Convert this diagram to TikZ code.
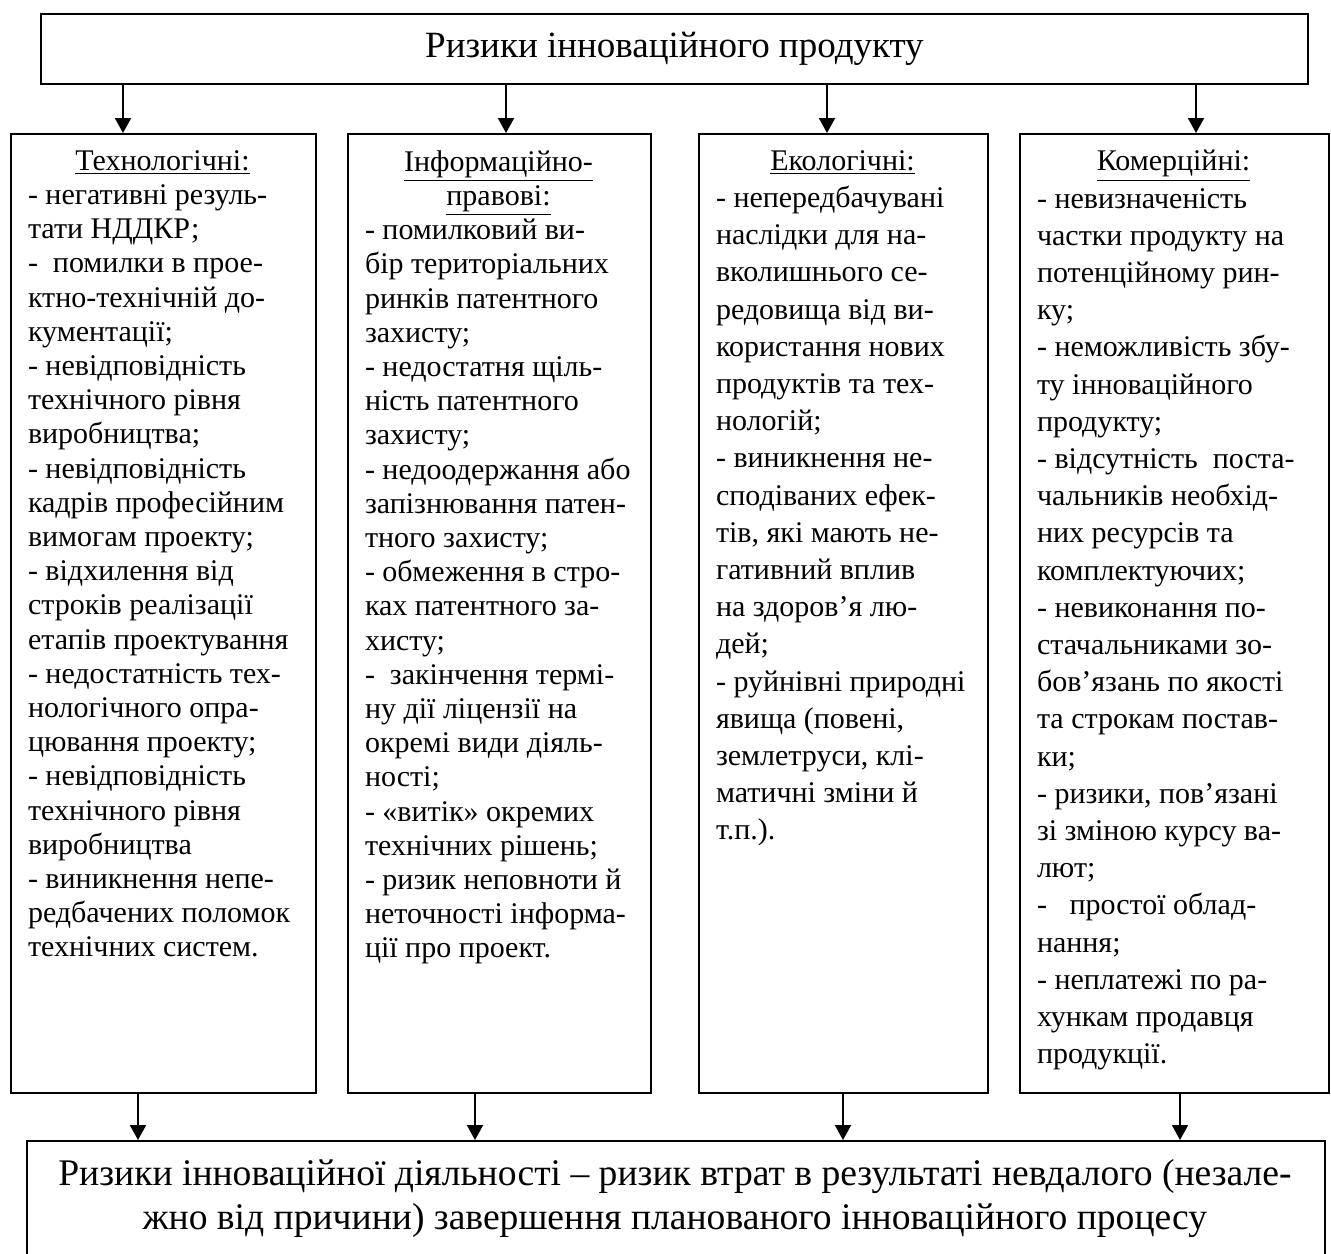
\documentclass[tikz,border=0pt]{standalone}
\usepackage{fontspec}
\setmainfont{Liberation Serif}
\usetikzlibrary{arrows.meta}
\begin{document}
\begin{tikzpicture}[x=0.5pt,y=-0.5pt,
  box/.style={draw, line width=1pt, inner sep=0pt, anchor=north west},
  coltext/.style={inner sep=0pt, anchor=north, align=left, font=\fontsize{15}{17.1}\selectfont},
  coltextwide/.style={coltext, font=\fontsize{15}{18.6}\selectfont},
  arr/.style={line width=1pt, -{Triangle[length=7.5pt,width=8pt]}}
]
\useasboundingbox (0,0) rectangle (1331,1253);
\fill[white] (0,0) rectangle (1331,1253);

% top box
\node[box, minimum width=633.5pt, minimum height=35pt,
      font=\fontsize{18.5}{22}\selectfont] (top) at (40,13) {Ризики інноваційного продукту};

% column boxes
\node[box, minimum width=152.5pt, minimum height=479.5pt] (b1) at (10,133) {};
\node[box, minimum width=151.5pt, minimum height=479.5pt] (b2) at (347,133) {};
\node[box, minimum width=144.5pt, minimum height=479.5pt] (b3) at (698,133) {};
\node[box, minimum width=154.5pt, minimum height=479.5pt] (b4) at (1019,133) {};

% bottom box (runs past the lower edge)
\node[box, minimum width=649pt, minimum height=65pt] (bot) at (26,1140) {};

% column texts
\node[coltext] (t1) at (162.5,150) {\makebox[134.5pt][c]{\underline{Технологічні:}}\\
- негативні резуль-\\
тати НДДКР;\\
-\ \ помилки в прое-\\
ктно-технічній до-\\
кументації;\\
- невідповідність\\
технічного рівня\\
виробництва;\\
- невідповідність\\
кадрів професійним\\
вимогам проекту;\\
- відхилення від\\
строків реалізації\\
етапів проектування\\
- недостатність тех-\\
нологічного опра-\\
цювання проекту;\\
- невідповідність\\
технічного рівня\\
виробництва\\
- виникнення непе-\\
редбачених поломок\\
технічних систем.};

\node[coltext] (t2) at (498.5,150) {\makebox[133.5pt][c]{\underline{Інформаційно-}}\\
\makebox[133.5pt][c]{\underline{правові:}}\\
- помилковий ви-\\
бір територіальних\\
ринків патентного\\
захисту;\\
- недостатня щіль-\\
ність патентного\\
захисту;\\
- недоодержання або\\
запізнювання патен-\\
тного захисту;\\
- обмеження в стро-\\
ках патентного за-\\
хисту;\\
-\ \ закінчення термі-\\
ну дії ліцензії на\\
окремі види діяль-\\
ності;\\
- «витік» окремих\\
технічних рішень;\\
- ризик неповноти й\\
неточності інформа-\\
ції про проект.};

\node[coltextwide] (t3) at (842.5,150) {\makebox[126.5pt][c]{\underline{Екологічні:}}\\
- непередбачувані\\
наслідки для на-\\
вколишнього се-\\
редовища від ви-\\
користання нових\\
продуктів та тех-\\
нологій;\\
- виникнення не-\\
сподіваних ефек-\\
тів, які мають не-\\
гативний вплив\\
на здоров’я лю-\\
дей;\\
- руйнівні природні\\
явища (повені,\\
землетруси, клі-\\
матичні зміни й\\
т.п.).};

\node[coltextwide] (t4) at (1173.5,150) {\makebox[136.5pt][c]{\underline{Комерційні:}}\\
- невизначеність\\
частки продукту на\\
потенційному рин-\\
ку;\\
- неможливість збу-\\
ту інноваційного\\
продукту;\\
- відсутність\ \ поста-\\
чальників необхід-\\
них ресурсів та\\
комплектуючих;\\
- невиконання по-\\
стачальниками зо-\\
бов’язань по якості\\
та строкам постав-\\
ки;\\
- ризики, пов’язані\\
зі зміною курсу ва-\\
лют;\\
-\ \ \ простої облад-\\
нання;\\
- неплатежі по ра-\\
хункам продавця\\
продукції.};

% bottom text
\node[inner sep=0pt, anchor=north, align=center, font=\fontsize{18.8}{22}\selectfont] (bt) at (675,1159)
  {Ризики інноваційної діяльності – ризик втрат в результаті невдалого (незале-\\
   жно від причини) завершення планованого інноваційного процесу};

% arrow positions
\coordinate (a1) at (123,0);
\coordinate (a2) at (506,0);
\coordinate (a3) at (827,0);
\coordinate (a4) at (1196,0);
\coordinate (c1) at (138,0);
\coordinate (c2) at (475,0);
\coordinate (c3) at (843,0);
\coordinate (c4) at (1180,0);

\draw[arr] (top.south -| a1) -- (b1.north -| a1);
\draw[arr] (top.south -| a2) -- (b2.north -| a2);
\draw[arr] (top.south -| a3) -- (b3.north -| a3);
\draw[arr] (top.south -| a4) -- (b4.north -| a4);

\draw[arr] (b1.south -| c1) -- (bot.north -| c1);
\draw[arr] (b2.south -| c2) -- (bot.north -| c2);
\draw[arr] (b3.south -| c3) -- (bot.north -| c3);
\draw[arr] (b4.south -| c4) -- (bot.north -| c4);
\end{tikzpicture}
\end{document}
